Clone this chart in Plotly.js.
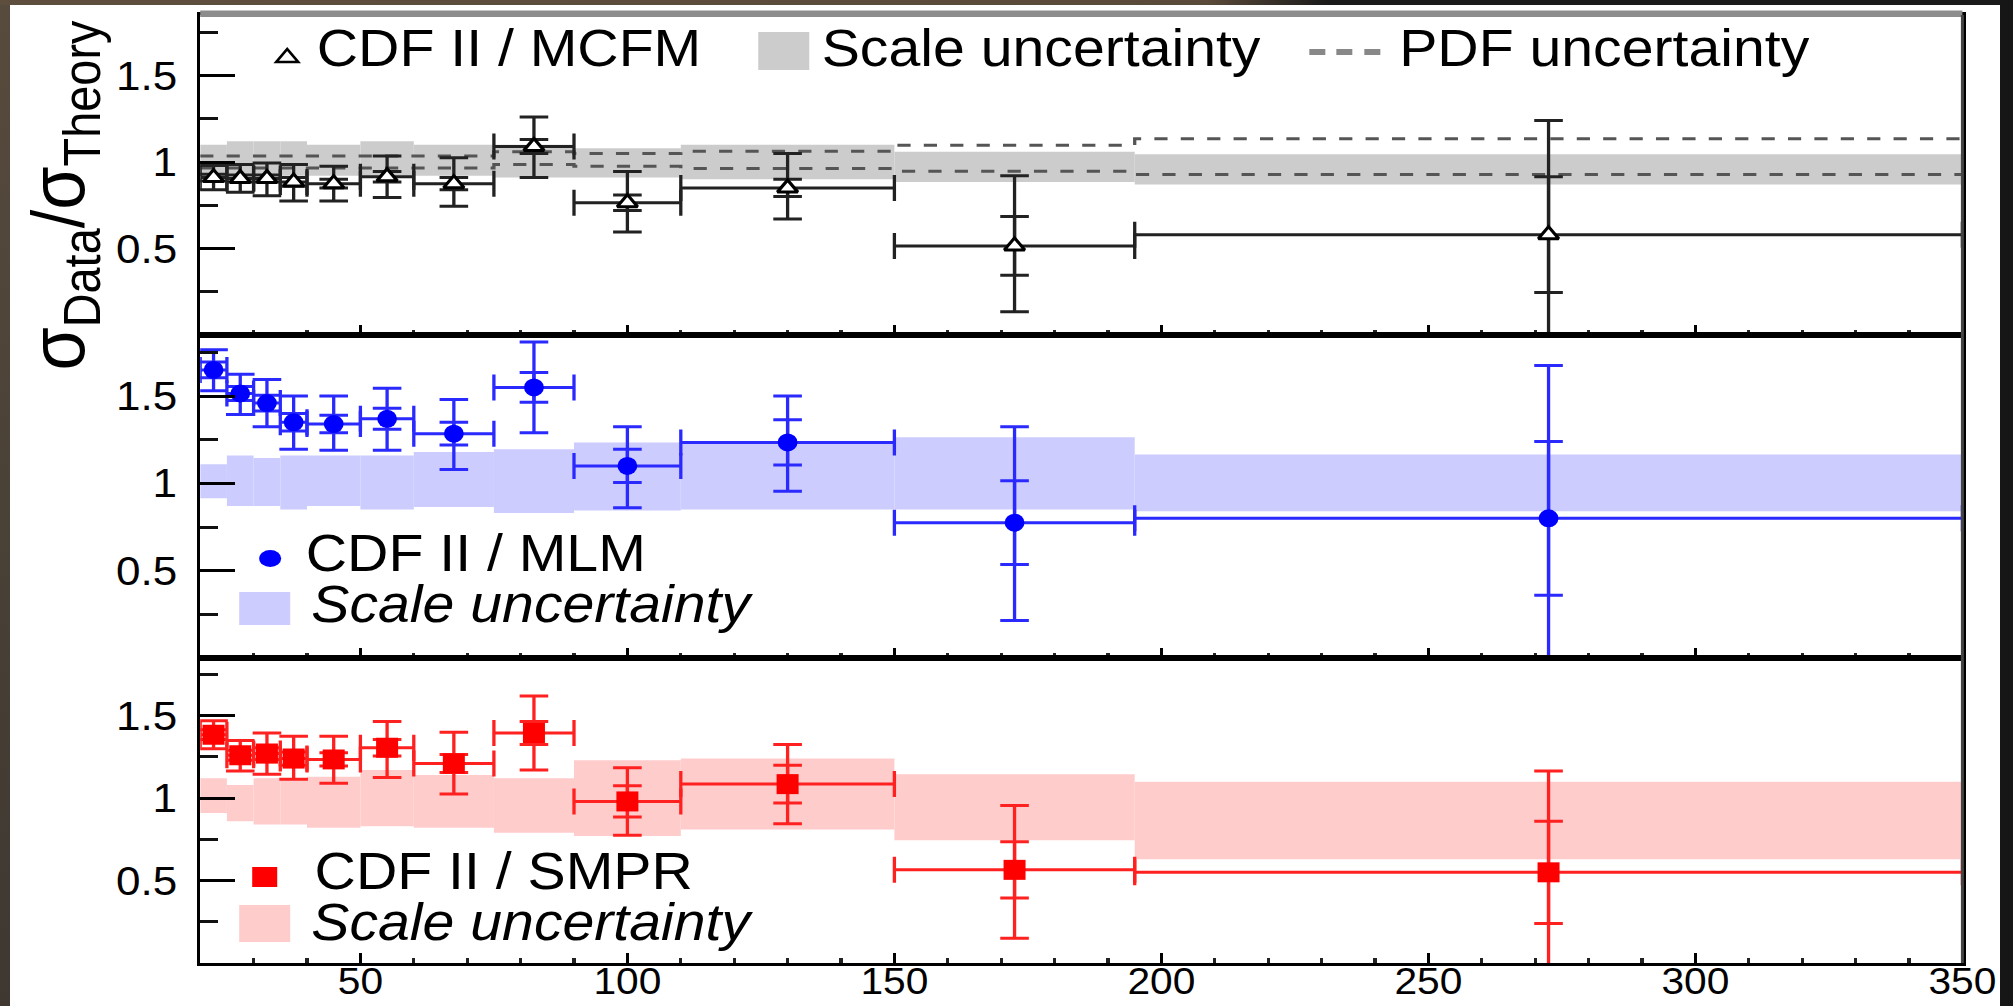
<!DOCTYPE html>
<html>
<head>
<meta charset="utf-8">
<script src="https://cdn.plot.ly/plotly-3.0.1.min.js"></script>
<style>
  html, body { margin:0; padding:0; background:#ffffff; width:2013px; height:1006px; overflow:hidden; }
  #wrap { position:absolute; left:0; top:0; width:1830px; height:1006px; transform:scaleX(1.1); transform-origin:0 0; }
  #plot { width:1830px; height:1006px; }
  .frame { position:absolute; z-index:10; }
</style>
</head>
<body>
<div id="wrap"><div id="plot"></div></div>
<div class="frame" style="left:0;top:0;width:10px;height:1006px;background:linear-gradient(to bottom,#574b3d,#3e3831);"></div>
<div class="frame" style="left:0;top:0;width:2013px;height:5px;background:linear-gradient(to right,#5e4e3e 0%,#5a4a3a 60%,#1a1a1a 66%,#1a1a1a 100%);"></div>
<div class="frame" style="left:2000px;top:0;width:13px;height:1006px;background:#161616;"></div>
<script>
// ---------------- data ----------------
const binLo = [20, 25, 30, 35, 40, 50, 60, 75, 90, 110, 150, 195];
const binHi = [25, 30, 35, 40, 50, 60, 75, 90, 110, 150, 195, 350];

// CDF II / MCFM (top panel)
const mcfmVal   = [0.91, 0.905, 0.905, 0.885, 0.875, 0.915, 0.875, 1.09, 0.765, 0.85, 0.515, 0.58];
const mcfmTotUp = [0.07, 0.08, 0.09, 0.10, 0.10, 0.12, 0.15, 0.17, 0.18, 0.20, 0.405, 0.66];
const mcfmTotDn = [0.07, 0.08, 0.10, 0.11, 0.10, 0.12, 0.13, 0.18, 0.17, 0.18, 0.38, 0.62];
const mcfmStat  = [0.02, 0.02, 0.02, 0.025, 0.025, 0.03, 0.035, 0.04, 0.045, 0.05, 0.17, 0.335];
const mcfmScaleLo = [0.92, 0.92, 0.92, 0.92, 0.92, 0.92, 0.92, 0.91, 0.91, 0.90, 0.885, 0.87];
const mcfmScaleHi = [1.10, 1.12, 1.12, 1.12, 1.10, 1.12, 1.10, 1.10, 1.08, 1.10, 1.06, 1.045];
const mcfmPdfHi = [1.035, 1.035, 1.035, 1.035, 1.035, 1.035, 1.035, 1.06, 1.05, 1.063, 1.097, 1.134];
const mcfmPdfLo = [0.965, 0.965, 0.965, 0.965, 0.965, 0.965, 0.965, 0.985, 0.975, 0.962, 0.947, 0.928];

// CDF II / MLM (middle panel)
const mlmVal   = [1.65, 1.515, 1.46, 1.35, 1.34, 1.37, 1.285, 1.55, 1.10, 1.235, 0.775, 0.80];
const mlmTotUp = [0.115, 0.11, 0.135, 0.15, 0.16, 0.175, 0.195, 0.26, 0.225, 0.265, 0.55, 0.875];
const mlmTotDn = [0.12, 0.12, 0.135, 0.155, 0.15, 0.18, 0.205, 0.26, 0.24, 0.28, 0.56, 0.85];
const mlmStat  = [0.045, 0.04, 0.045, 0.05, 0.05, 0.06, 0.065, 0.085, 0.095, 0.13, 0.24, 0.44];
const mlmScaleLo = [0.915, 0.87, 0.87, 0.85, 0.87, 0.85, 0.865, 0.83, 0.845, 0.85, 0.85, 0.84];
const mlmScaleHi = [1.11, 1.16, 1.145, 1.16, 1.16, 1.16, 1.18, 1.195, 1.235, 1.24, 1.265, 1.165];

// CDF II / SMPR (bottom panel)
const smprVal   = [1.385, 1.26, 1.27, 1.24, 1.235, 1.305, 1.21, 1.395, 0.98, 1.085, 0.565, 0.55];
const smprTotUp = [0.085, 0.09, 0.125, 0.135, 0.14, 0.16, 0.19, 0.225, 0.205, 0.24, 0.39, 0.615];
const smprTotDn = [0.085, 0.095, 0.125, 0.125, 0.145, 0.18, 0.185, 0.225, 0.205, 0.24, 0.415, 0.60];
const smprStat  = [0.03, 0.03, 0.035, 0.04, 0.04, 0.05, 0.055, 0.07, 0.095, 0.115, 0.17, 0.31];
const smprScaleLo = [0.91, 0.86, 0.84, 0.84, 0.82, 0.83, 0.82, 0.79, 0.77, 0.81, 0.745, 0.63];
const smprScaleHi = [1.12, 1.08, 1.12, 1.12, 1.13, 1.17, 1.14, 1.12, 1.23, 1.24, 1.145, 1.10];

const xTickVals = [50, 100, 150, 200, 250, 300, 350];
const yTickVals = [0.5, 1, 1.5];
const yMinorVals = [0.25, 0.75, 1.25, 1.75];

// ---------------- geometry helpers ----------------
const S = 1.1;                 // horizontal stretch applied by CSS
const W = 2013 / S, H = 1006;
const L = 200 / S, R = W - 1962 / S, T = 15, B = 43;
const PW = W - L - R, PH = H - T - B;
const px = xf => (xf / S - L) / PW;        // full-image x pixel -> paper
const py = yf => (H - B - yf) / PH;        // full-image y pixel -> paper

const centers = binLo.map((lo, i) => (lo + binHi[i]) / 2);
const halfW = binLo.map((lo, i) => (binHi[i] - lo) / 2);
const widths = binLo.map((lo, i) => binHi[i] - lo);
const FONT = 'Liberation Sans, Arial, Helvetica, sans-serif';

function band(lo, hi, color, xa, ya) {
  return {type: 'bar', x: centers, y: hi.map((h, i) => h - lo[i]), base: lo, width: widths,
    marker: {color: color, line: {width: 0}}, xaxis: xa, yaxis: ya, hoverinfo: 'skip', showlegend: false};
}
function statTrace(val, stat, color, xa, ya) {
  return {type: 'scatter', mode: 'markers', x: centers, y: val,
    marker: {size: 1, opacity: 0},
    error_y: {type: 'data', array: stat, color: color, thickness: 3, width: 13},
    xaxis: xa, yaxis: ya, hoverinfo: 'skip', showlegend: false, cliponaxis: true};
}
function mainTrace(val, up, dn, color, marker, xa, ya) {
  return {type: 'scatter', mode: 'markers', x: centers, y: val, marker: marker,
    error_y: {type: 'data', symmetric: false, array: up, arrayminus: dn, color: color, thickness: 3, width: 13},
    error_x: {type: 'data', array: halfW, color: color, thickness: 3, width: 13},
    xaxis: xa, yaxis: ya, hoverinfo: 'skip', showlegend: false, cliponaxis: true};
}
function pdfLine(v, xa, ya) {
  return {type: 'scatter', mode: 'lines', x: binLo.concat([binHi[binHi.length - 1]]), y: v.concat([v[v.length - 1]]),
    line: {shape: 'hv', color: '#555555', width: 3, dash: '12px,12px'},
    xaxis: xa, yaxis: ya, hoverinfo: 'skip', showlegend: false};
}

const data = [
  band(mcfmScaleLo, mcfmScaleHi, '#cccccc', 'x', 'y'),
  pdfLine(mcfmPdfHi, 'x', 'y'),
  pdfLine(mcfmPdfLo, 'x', 'y'),
  statTrace(mcfmVal, mcfmStat, '#222222', 'x', 'y'),
  mainTrace(mcfmVal, mcfmTotUp, mcfmTotDn, '#222222',
    {symbol: 'triangle-up', size: 16, color: '#ffffff', line: {color: '#000000', width: 3}}, 'x', 'y'),

  band(mlmScaleLo, mlmScaleHi, '#ccccff', 'x2', 'y2'),
  statTrace(mlmVal, mlmStat, '#2a2aff', 'x2', 'y2'),
  mainTrace(mlmVal, mlmTotUp, mlmTotDn, '#2a2aff',
    {symbol: 'circle', size: 18, color: '#0000ff', line: {width: 0}}, 'x2', 'y2'),

  band(smprScaleLo, smprScaleHi, '#ffcccc', 'x3', 'y3'),
  statTrace(smprVal, smprStat, '#ff2020', 'x3', 'y3'),
  mainTrace(smprVal, smprTotUp, smprTotDn, '#ff2020',
    {symbol: 'square', size: 20, color: '#ff0000', line: {width: 0}}, 'x3', 'y3')
];

function xAxis(anchor, showLabels) {
  return {anchor: anchor, range: [20, 350], showgrid: false, zeroline: false,
    showline: true, linecolor: '#000000', linewidth: 3, mirror: true,
    ticks: 'inside', tickmode: 'array', tickvals: xTickVals, ticklen: 10, tickwidth: 3, tickcolor: '#000000',
    minor: {tickmode: 'linear', tick0: 0, dtick: 10, ticks: 'inside', ticklen: 5, tickwidth: 3, tickcolor: '#222222', showgrid: false},
    showticklabels: showLabels, tickfont: {family: FONT, size: 37, color: '#000000'}, ticklabelstandoff: -16, fixedrange: true};
}
function yAxis(anchor, domain) {
  return {anchor: anchor, domain: domain, range: [0, 1.85], showgrid: false, zeroline: false,
    showline: true, linecolor: '#000000', linewidth: 3, mirror: true,
    ticks: 'inside', tickmode: 'array', tickvals: yTickVals, ticklen: 32, tickwidth: 3, tickcolor: '#000000',
    minor: {tickmode: 'array', tickvals: yMinorVals, ticks: 'inside', ticklen: 16, tickwidth: 3, tickcolor: '#111111', showgrid: false},
    tickfont: {family: FONT, size: 40, color: '#000000'}, ticklabelstandoff: 10, fixedrange: true};
}

const legFont = {family: FONT, size: 52, color: '#000000'};
function txt(text, xf, yf) {
  return {xref: 'paper', yref: 'paper', x: px(xf), y: py(yf), xanchor: 'left', yanchor: 'middle',
    text: text, showarrow: false, font: legFont, borderpad: 0};
}
const annotations = [
  txt('CDF II / MCFM', 316, 47.5),
  txt('Scale uncertainty', 820, 47.5),
  txt('PDF uncertainty', 1398, 47.5),
  txt('CDF II / MLM', 304, 553.5),
  txt('<i>Scale uncertainty</i>', 310, 603.5),
  txt('CDF II / SMPR', 313, 870.5),
  txt('<i>Scale uncertainty</i>', 310, 921.5),
  {xref: 'paper', yref: 'paper', x: px(62), y: py(195), xanchor: 'center', yanchor: 'middle', textangle: -90,
   showarrow: false, font: {family: FONT, size: 67, color: '#000000'},
   text: '<span style="font-size:70px">σ</span><sub>Data</sub>/<span style="font-size:70px">σ</span><sub>Theory</sub>'}
];

function rect(x0, y0, x1, y1, color) {
  return {type: 'rect', xref: 'paper', yref: 'paper', x0: px(x0), x1: px(x1), y0: py(y1), y1: py(y0),
    fillcolor: color, line: {width: 0}, layer: 'above'};
}
const shapes = [
  // top frame of the upper panel (grey, thick) and grey right edge
  rect(200, 10.5, 1962, 17, '#8c8c8c'),
  rect(1960.5, 15, 1963.5, 963, '#444444'),
  // legend icons
  {type: 'path', xref: 'paper', yref: 'paper', layer: 'above',
   path: 'M' + px(276) + ',' + py(62) + ' L' + px(298) + ',' + py(62) + ' L' + px(287) + ',' + py(49) + ' Z',
   fillcolor: '#ffffff', line: {color: '#000000', width: 2.5}},
  rect(758, 32, 809, 70, '#cccccc'),
  rect(1309, 49, 1325, 55, '#888888'),
  rect(1336, 49, 1352, 55, '#888888'),
  rect(1364, 49, 1380, 55, '#888888'),
  {type: 'circle', xref: 'paper', yref: 'paper', layer: 'above',
   x0: px(259), x1: px(281), y0: py(567), y1: py(550), fillcolor: '#0000ff', line: {width: 0}},
  rect(239, 592, 290, 625, '#ccccff'),
  rect(252, 867, 277, 887, '#ff0000'),
  rect(239, 905, 290, 942, '#ffcccc')
];

const layout = {
  width: W, height: H,
  margin: {l: L, r: R, t: T, b: B, pad: 0},
  paper_bgcolor: '#ffffff', plot_bgcolor: '#ffffff',
  showlegend: false, barmode: 'overlay',
  xaxis: xAxis('y', false),
  yaxis: yAxis('x', [py(335), 1]),
  xaxis2: xAxis('y2', false),
  yaxis2: yAxis('x2', [py(658), py(335)]),
  xaxis3: xAxis('y3', true),
  yaxis3: yAxis('x3', [0, py(658)]),
  annotations: annotations,
  shapes: shapes
};

Plotly.newPlot('plot', data, layout, {staticPlot: true, displayModeBar: false});
</script>
</body>
</html>
